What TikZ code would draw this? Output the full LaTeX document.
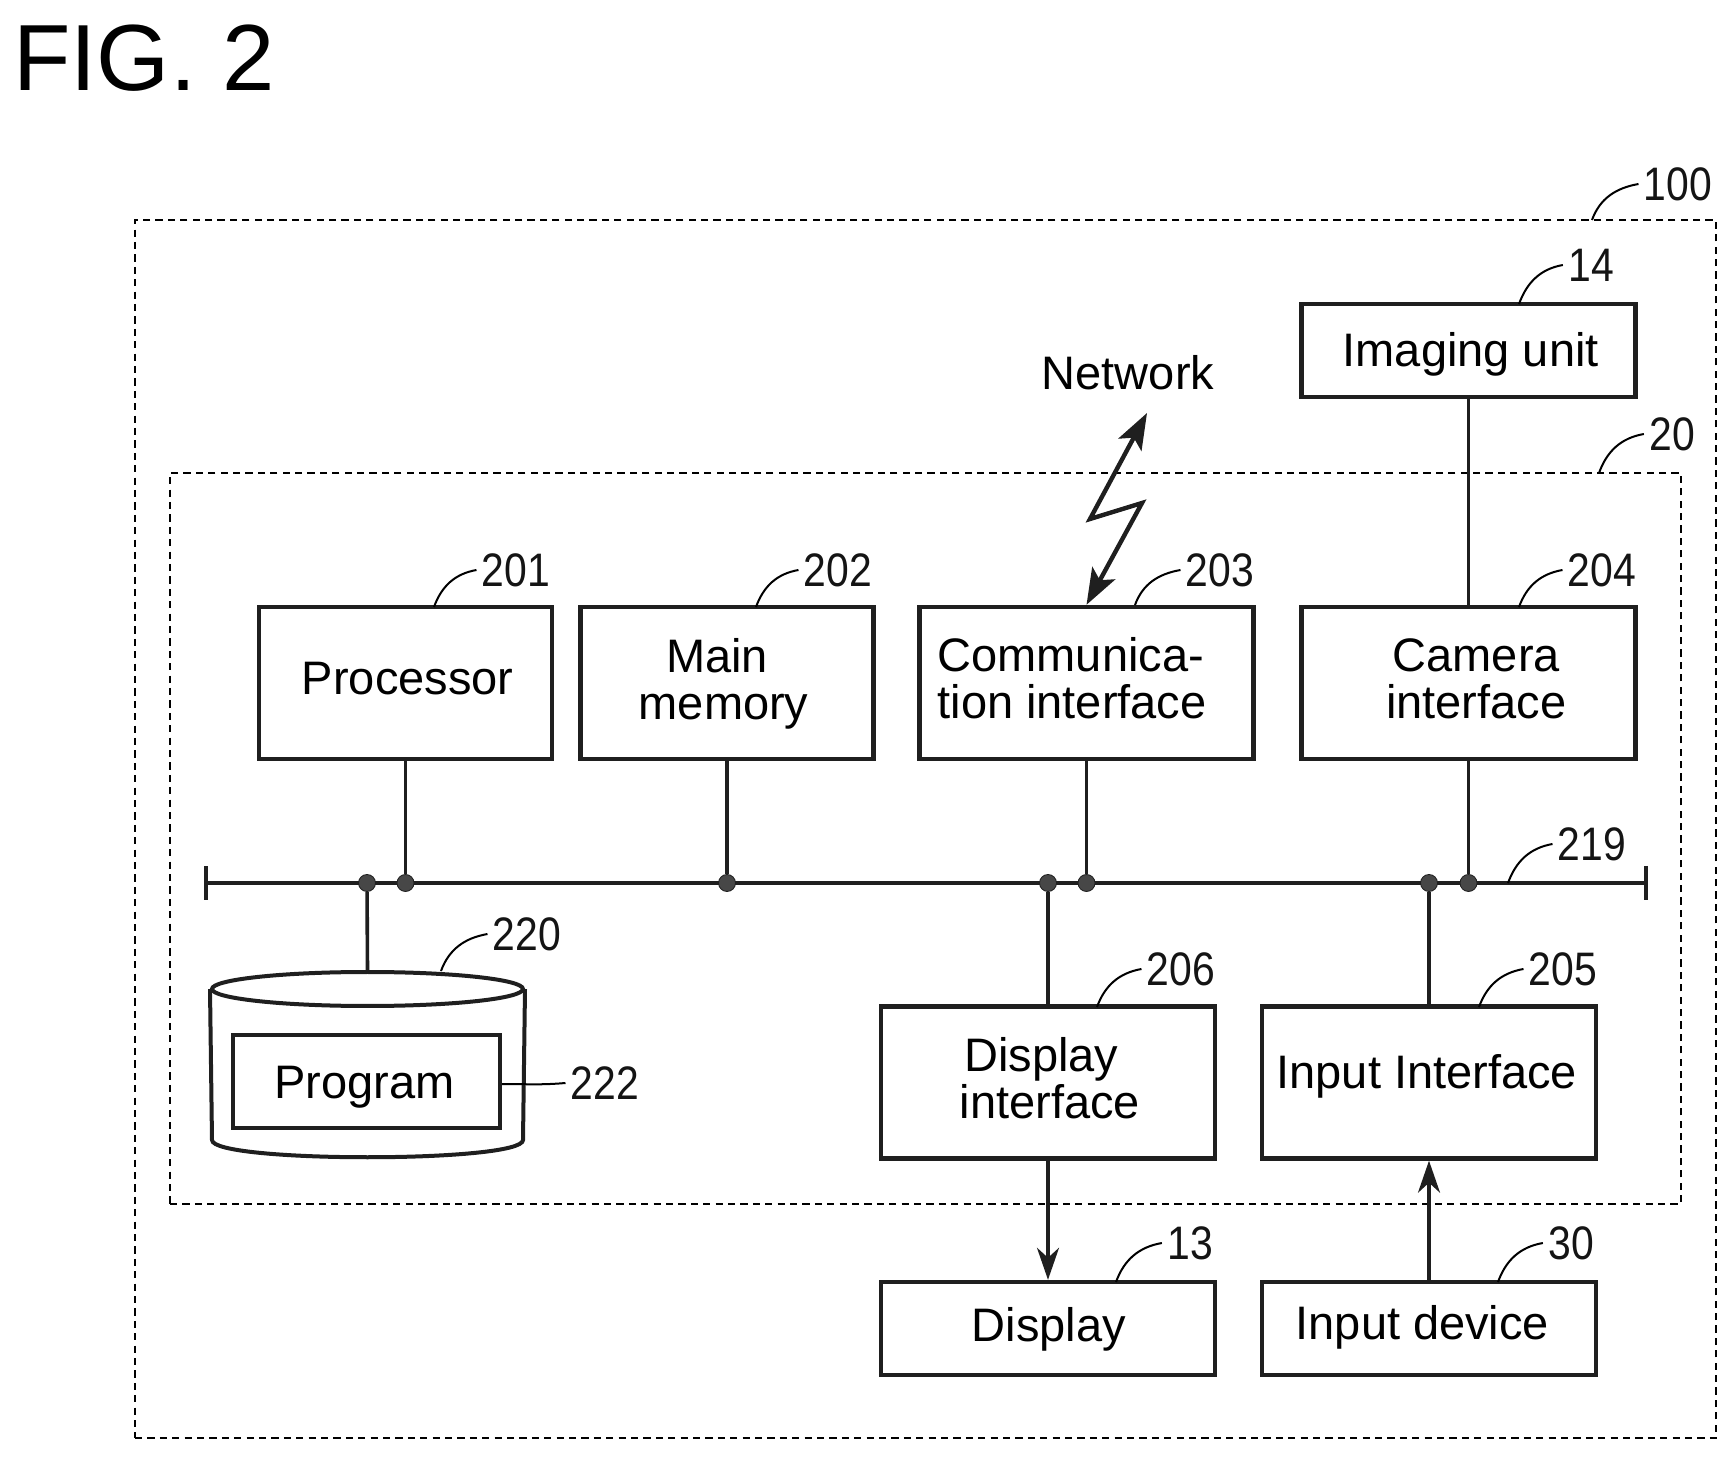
\documentclass[tikz,border=0pt]{standalone}
\usepackage{fontspec}
\setmainfont{Liberation Sans}
\newfontfamily\numfont[FakeStretch=0.87]{Liberation Sans}
\usetikzlibrary{arrows.meta,shapes.geometric}
\newcommand{\shiftedtext}[3]{\kern#1pt\raisebox{#2pt}[\height][\depth]{#3}\kern-#1pt}
\tikzset{
  x=0.5pt,y=-0.5pt,
  box/.style={draw=black!88,line width=2.2pt,rectangle,inner sep=0pt,
    font=\fontsize{23.5}{23.5}\selectfont,text=black,align=center},
  wide/.style={minimum width=167pt},
  narrow/.style={minimum width=146.5pt},
  tall/.style={minimum height=76pt},
  short/.style={minimum height=46.5pt},
  frame/.style={draw=black,line width=0.9pt,dash pattern=on 3.6pt off 2.6pt,rectangle,inner sep=0pt},
  conn/.style={draw=black!88,line width=1.8pt},
  arr/.style={conn,-{Stealth[length=16pt,width=11pt,inset=5pt]}},
  bolt/.style={draw=black!88,line width=2.2pt,{Stealth[length=18pt,width=13pt,inset=4pt]}-{Stealth[length=18pt,width=13pt,inset=4pt]}},
  jdot/.style={circle,fill=black!72,draw=black!88,line width=0.4pt,minimum size=8.5pt,inner sep=0pt},
  leader/.style={draw=black,line width=1pt},
  num/.style={font=\fontsize{23.5}{23.5}\numfont,text=black!92,inner sep=2.5pt},
  drum/.style={draw=black!88,line width=2pt},
}
\begin{document}
\begin{tikzpicture}
\useasboundingbox (0,0) rectangle (1736,1459);
\node[font=\fontsize{47}{47}\selectfont,anchor=west,inner sep=0pt] (fig) at (13,58) {FIG. 2};
\node[frame,minimum width=790.5pt,minimum height=609pt] (outer) at (925.5,829) {};
\node[frame,minimum width=755.5pt,minimum height=365.5pt] (inner) at (925.5,838.5) {};
% boxes
\node[box,wide,short] (imaging) at (1468.5,350.5) {\shiftedtext{1.1}{-1.7}{Imaging unit}};
\node[box,narrow,tall] (proc) at (405.5,683) {\shiftedtext{1.1}{2.2}{Processor}};
\node[box,narrow,tall] (main) at (727,683) {\shiftedtext{-5}{-0.5}{Main}\\\shiftedtext{-1.7}{-0.5}{memory}};
\node[box,wide,tall,align=left] (comm) at (1086.5,683) {\shiftedtext{-7.2}{2.2}{Communica-}\\\shiftedtext{-7.2}{2.2}{tion interface}};
\node[box,wide,tall] (cam) at (1468.5,683) {\shiftedtext{3.9}{2.2}{Camera}\\\shiftedtext{3.9}{2.2}{interface}};
\node[box,wide,tall] (dispif) at (1048,1082.5) {\shiftedtext{-3.3}{2.2}{Display}\\\shiftedtext{1}{2.2}{interface}};
\node[box,wide,tall] (inif) at (1429,1082.5) {\shiftedtext{-1.1}{3.3}{Input Interface}};
\node[box,wide,short] (disp) at (1048,1328.5) {\shiftedtext{0.5}{-0.5}{Display}};
\node[box,wide,short] (indev) at (1429,1328.5) {\shiftedtext{-3.3}{0.5}{Input device}};
% storage drum
\node[ellipse,drum,minimum width=155.5pt,minimum height=17pt,inner sep=0pt] (cyl) at (367.5,989) {};
\coordinate (dbl) at (212,1140);
\coordinate (dbr) at (523,1140);
\draw[drum] (cyl.west) -- (dbl) .. controls +(0,23) and +(0,23) .. (dbr) -- (cyl.east);
\node[box,minimum width=133.5pt,minimum height=46.5pt] (prog) at (366.5,1081.5) {\shiftedtext{-1.1}{-2.8}{Program}};
% bus
\coordinate (busL) at (204,883);
\coordinate (busR) at (1648,883);
\draw[conn,{Bar[width=17pt]}-{Bar[width=17pt]}] (busL) -- (busR);
\node[jdot] (jcyl) at (367,883) {};
\node[jdot] (jproc) at (405.5,883) {};
\node[jdot] (jmain) at (727,883) {};
\node[jdot] (jdisp) at (1048,883) {};
\node[jdot] (jcomm) at (1086.5,883) {};
\node[jdot] (jin) at (1429,883) {};
\node[jdot] (jcam) at (1468.5,883) {};
\draw[conn] (proc) -- (jproc);
\draw[conn] (main) -- (jmain);
\draw[conn] (comm) -- (jcomm);
\draw[conn] (cam) -- (jcam);
\draw[conn] (imaging) -- (cam);
\draw[conn] (jcyl) -- (cyl.north);
\draw[conn] (jdisp) -- (dispif);
\draw[conn] (jin) -- (inif);
\draw[arr] (dispif) -- (disp);
\draw[arr] (indev) -- (inif);
% lightning
\coordinate (ltop) at (1147,413);
\coordinate (lk1) at (1090,519);
\coordinate (lk2) at (1142,503);
\draw[bolt] (comm.north) -- (lk2) -- (lk1) -- (ltop);
\node[font=\fontsize{23.5}{23.5}\selectfont,inner sep=0pt] (net) at (1128,373) {Network};
% labels
\node[num] (n100) at (1678,184) {100};
\node[num] (n14) at (1591,265) {14};
\node[num] (n20) at (1672,434) {20};
\node[num] (n201) at (516,570) {201};
\node[num] (n202) at (838,570) {202};
\node[num] (n203) at (1220,570) {203};
\node[num] (n204) at (1602,570) {204};
\node[num] (n219) at (1592,844) {219};
\node[num] (n220) at (527,934) {220};
\node[num] (n222) at (605,1083) {222};
\node[num] (n206) at (1181,969) {206};
\node[num] (n205) at (1563,969) {205};
\node[num] (n13) at (1190,1243) {13};
\node[num] (n30) at (1571,1243) {30};
% leaders
\coordinate (a100) at (1592,220);
\coordinate (a14) at (1519,304);
\coordinate (a20) at (1599,473);
\coordinate (a201) at (434,607);
\coordinate (a202) at (756,607);
\coordinate (a203) at (1135,605);
\coordinate (a204) at (1519,607);
\coordinate (a219) at (1508,883);
\coordinate (a220) at (441,971);
\coordinate (a222) at (502,1084);
\coordinate (a206) at (1097,1007);
\coordinate (a205) at (1479,1007);
\coordinate (a13) at (1116,1282);
\coordinate (a30) at (1498,1282);
\foreach \t in {100,14,20,201,202,203,204,219,220,206,205,13,30}{
  \draw[leader] (a\t) to[out=70,in=190] (n\t.west);
}
\draw[leader] (a222) to[out=0,in=185] (n222.west);
\end{tikzpicture}
\end{document}
